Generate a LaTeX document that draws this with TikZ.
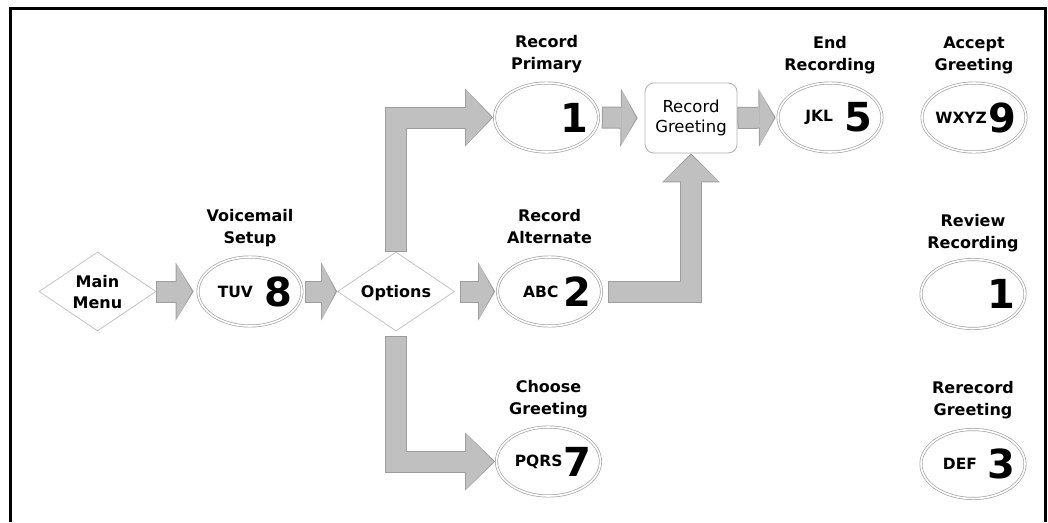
\documentclass[tikz,border=0pt]{standalone}
\usepackage{fontspec}
\setmainfont{DejaVu Sans}
\usetikzlibrary{shapes.geometric,arrows.meta,calc}
\definecolor{afill}{RGB}{192,192,192}
\definecolor{aedge}{RGB}{158,158,158}
\definecolor{egray}{RGB}{165,165,165}
\definecolor{dgray}{RGB}{195,195,195}
\definecolor{rgray}{RGB}{175,175,175}
\newcommand\fat[3]{%
  \draw[fatA=#1] #3;
  \draw[fatB=#2] #3;}
\begin{document}
\begin{tikzpicture}[x=1pt,y=-1pt,
  key/.style={ellipse, draw=egray, double=white, double distance=1.6pt, line width=0.7pt,
    minimum width=104pt, minimum height=69pt, inner sep=0pt},
  dia/.style={diamond, draw=dgray, line width=0.8pt, aspect=1.45, minimum width=117pt,
    minimum height=79pt, inner sep=0pt, text depth=0pt,
    font=\bfseries\fontsize{16}{21}\selectfont, align=center},
  rgbox/.style={rectangle, rounded corners=9pt, draw=rgray, line width=0.8pt,
    minimum width=92pt, minimum height=70pt, inner sep=0pt, align=center,
    font=\fontsize{16.5}{20}\selectfont},
  lbl/.style={font=\bfseries\fontsize{16}{22}\selectfont, align=center, inner sep=0pt, text depth=3.7pt},
  dig/.style={font=\bfseries\fontsize{40}{40}\selectfont, inner sep=0pt, anchor=east},
  ltr/.style={font=\bfseries\fontsize{15.5}{16}\selectfont, inner sep=0pt, anchor=east},
  fatA/.style={draw=aedge, line width=22pt, line join=miter,
    -{Triangle[length=#1pt 0 0, width=58pt 0 0, line width=0pt 0 0]}},
  fatB/.style={draw=afill, line width=20pt, line join=miter, shorten <=1pt, shorten >=1.6pt,
    -{Triangle[length=#1pt 0 0, width=55pt 0 0, line width=0pt 0 0]}}
]
\useasboundingbox (0,0) rectangle (1048,522);
% frame
\draw[line width=3pt] (10.5,522) -- (10.5,8.5) -- (1045.5,8.5) -- (1045.5,522);

% nodes
\node[dia] (mm) at (97.5,291.5) {Main\\Menu};
\node[key] (ve) at (250,291.5) {};
\node[dia] (opt) at (396,291.5) {Options};
\node[key] (prim) at (546.5,117.5) {};
\node[key] (alt) at (549.5,291.5) {};
\node[key] (ch) at (548.5,461.5) {};
\node[rgbox] (rg) at (691,118) {Record\\Greeting};
\node[key] (endr) at (830,117.5) {};
\node[key] (acc) at (974,117.5) {};
\node[key] (rev) at (973,294) {};
\node[key] (rer) at (973,464) {};

% labels
\node[lbl] (ve-l) at ($(ve.north)+(0,-28)$) {Voicemail\\Setup};
\node[lbl] (prim-l) at ($(prim.north)+(0,-28)$) {Record\\Primary};
\node[lbl] (alt-l) at ($(alt.north)+(0,-28)$) {Record\\Alternate};
\node[lbl] (ch-l) at ($(ch.north)+(0,-27)$) {Choose\\Greeting};
\node[lbl] (endr-l) at ($(endr.north)+(0,-27)$) {End\\Recording};
\node[lbl] (acc-l) at ($(acc.north)+(0,-27)$) {Accept\\Greeting};
\node[lbl] (rev-l) at ($(rev.north)+(0,-26)$) {Review\\Recording};
\node[lbl] (rer-l) at ($(rer.north)+(0,-29)$) {Rerecord\\Greeting};

% key contents
\node[dig] (ve-d) at ($(ve.east)+(-10,0)$) {8};
\node[ltr] (ve-t) at ($(ve-d.west)+(-11,0)$) {TUV};
\node[dig] (prim-d) at ($(prim.east)+(-10,0)$) {1};
\node[dig] (alt-d) at ($(alt.east)+(-10,0)$) {2};
\node[ltr] (alt-t) at ($(alt-d.west)+(-5,0)$) {ABC};
\node[dig] (ch-d) at ($(ch.east)+(-9,0)$) {7};
\node[ltr] (ch-t) at ($(ch-d.west)+(-1,0)$) {PQRS};
\node[dig] (endr-d) at ($(endr.east)+(-10,0)$) {5};
\node[ltr] (endr-t) at ($(endr-d.west)+(-11,0)$) {JKL};
\node[dig] (acc-d) at ($(acc.east)+(-10,0)$) {9};
\node[ltr] (acc-t) at ($(acc-d.west)+(-1,0)$) {WXYZ};
\node[dig] (rev-d) at ($(rev.east)+(-10,0)$) {1};
\node[dig] (rer-d) at ($(rer.east)+(-10,0)$) {3};
\node[ltr] (rer-t) at ($(rer-d.west)+(-10,0)$) {DEF};

% block arrows
\fat{18}{15.4}{(mm.east) -- ($(ve.west)+(-4,0)$)}
\fat{16}{13.4}{($(ve.east)+(3,0)$) -- (opt.west)}
\fat{28}{25.4}{(opt.north) |- ($(prim.west)+(-1,0)$)}
\fat{17}{14.4}{($(opt.east)+(5,0)$) -- ($(alt.west)+(-2,0)$)}
\fat{30}{27.4}{($(opt.south)+(0,5)$) |- ($(ch.west)+(-1,0)$)}
\fat{17}{14.4}{($(prim.east)+(3,0)$) -- ($(rg.west)+(-7,0)$)}
\fat{29}{26.4}{($(alt.east)+(6,0)$) -| (rg.south)}
\fat{17}{14.4}{(rg.east) -- ($(endr.west)+(-2,0)$)}
\end{tikzpicture}
\end{document}
